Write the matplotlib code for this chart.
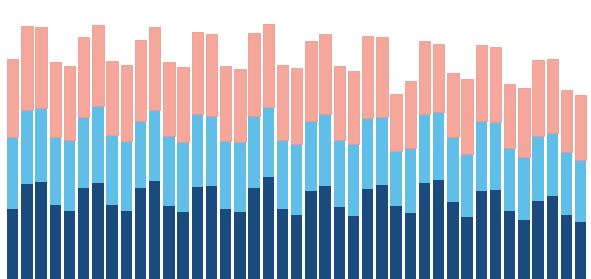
import numpy as np
import matplotlib
matplotlib.use("Agg")
import matplotlib.pyplot as plt

# three stacked series, 41 bars
dark = [69.7, 94.7, 97, 73.7, 68.3, 91, 96.3, 73.7, 68, 91.3, 97.7, 73.3, 66.7, 92.3,
        93, 70.3, 67.3, 91.3, 101.7, 70, 64, 88, 93, 71.7, 63.3, 90, 93.7, 73.3,
        66.3, 96.3, 99, 77, 62, 88, 89.3, 67.7, 59.3, 78, 82.7, 64, 57.3]
light = [72.6, 74.3, 74.3, 68.3, 70.7, 70.7, 76.7, 70.3, 70.3, 66.4, 71.3, 69.7, 70, 72.7,
         70.3, 67.4, 69.7, 72, 70.3, 69, 71, 70.3, 72, 67.3, 71.4, 71, 68.3, 55,
         64.4, 69, 68.3, 65, 63, 70, 67.4, 63.3, 62.4, 65.3, 63, 62.7, 61.7]
salmon = [77.4, 83.7, 80.7, 75, 74, 80.6, 81.3, 74.3, 76, 81, 82.7, 74, 75.3, 81.7,
          81.7, 75.3, 73.3, 82.7, 83.3, 75, 75.7, 79.7, 80.3, 74.3, 73, 82, 80, 56.7,
          67.6, 72.4, 67.7, 64.3, 74.7, 75.7, 75.3, 64, 69.3, 75.7, 74.3, 62.7, 65.3]

x = np.arange(len(dark))
dark = np.array(dark)
light = np.array(light)
salmon = np.array(salmon)

fig = plt.figure(figsize=(5.91, 2.79), dpi=100)
ax = fig.add_axes([0, 0, 1, 1])

w = 0.8
ax.bar(x, dark, width=w, color="#1b4b7d")
ax.bar(x, light, width=w, bottom=dark, color="#5fbfe9")
ax.bar(x, salmon, width=w, bottom=dark + light, color="#f5a79b",
       edgecolor="#ee9c90", linewidth=0.6)

ax.set_xlim(-0.89, 40.73)
ax.set_ylim(0, 279)
ax.axis("off")

fig.savefig("out.png", dpi=100)
